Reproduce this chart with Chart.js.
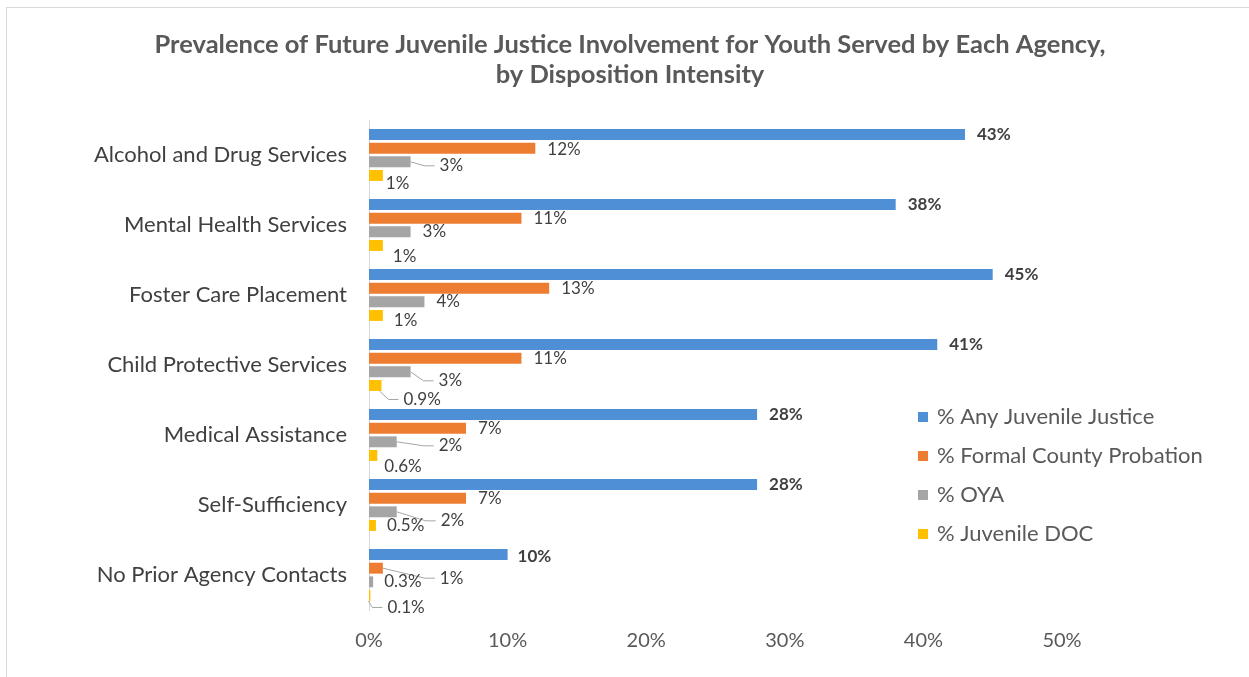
<!DOCTYPE html>
<html>
<head>
<meta charset="utf-8">
<script src="https://cdn.jsdelivr.net/npm/chart.js@4"></script>
<style>
  html, body { margin: 0; padding: 0; background: #fff; }
  #wrap { width: 1249px; height: 677px; }
</style>
</head>
<body>
<div id="wrap"><canvas id="myChart" width="1249" height="677"></canvas></div>
<script>
"use strict";

const categories = [
  "Alcohol and Drug Services",
  "Mental Health Services",
  "Foster Care Placement",
  "Child Protective Services",
  "Medical Assistance",
  "Self-Sufficiency",
  "No Prior Agency Contacts",
];
const seriesNames = [
  "% Any Juvenile Justice",
  "% Formal County Probation",
  "% OYA",
  "% Juvenile DOC",
];
const anyJuvenileJustice = [43, 38, 45, 41, 28, 28, 10];
const formalCountyProbation = [12, 11, 13, 11, 7, 7, 1];
const oya = [3, 3, 4, 3, 2, 2, 0.3];
const juvenileDoc = [1, 1, 1, 0.9, 0.6, 0.5, 0.1];
const xTickValues = [0, 10, 20, 30, 40, 50];
const titleLines = [
  "Prevalence of Future Juvenile Justice Involvement for Youth Served by Each Agency,",
  "by Disposition Intensity",
];

const seriesColors = ["#4f8fd6", "#ed7d31", "#a5a5a5", "#ffc000"];
const fontFamily = "Lato, 'Open Sans', sans-serif";

// where Excel pushed the data labels: [dx from bar end, dy from bar centre, leader]
// leader: 0 none, 1 from bar end, 2 from bar bottom
const labelNudge = [
  [[12, 0], [12, 0], [12, 0], [12, 0], [12, 0], [12, 0], [10, 2]],
  [[12, 1], [12, 0], [12, 0], [12, 0], [12, 0], [12, 0], [57, 10, 1]],
  [[29, 4, 1], [12, 0], [12, 0], [28, 9, 1], [42, 4, 1], [44, 9, 1], [11, 0]],
  [[3, 8], [10, 11], [11, 5], [22, 14, 2], [7, 11], [11, 0], [17, 12, 2]],
];

const fmt = (v) => (v < 1 ? v.toFixed(1) : v.toFixed(0)) + "%";

const frame = {
  id: "frame",
  beforeDraw: (chart) => {
    const ctx = chart.ctx;
    ctx.save();
    ctx.strokeStyle = "#d9d9d9";
    ctx.lineWidth = 1;
    ctx.strokeRect(6.5, 7.5, 1300, 700);
    // title, centred on the whole frame rather than the plot
    ctx.fillStyle = "#595959";
    ctx.font = "bold 25.5px " + fontFamily;
    ctx.textAlign = "center";
    ctx.textBaseline = "middle";
    titleLines.forEach((t, i) => ctx.fillText(t, 630, 45 + i * 30));
    ctx.restore();
  },
};

const barLabels = {
  id: "barLabels",
  afterDatasetsDraw: (chart) => {
    const ctx = chart.ctx;
    ctx.save();
    ctx.textBaseline = "middle";
    ctx.textAlign = "left";
    chart.data.datasets.forEach((ds, di) => {
      const meta = chart.getDatasetMeta(di);
      meta.data.forEach((bar, i) => {
        const [dx, dy, leader] = labelNudge[di][i];
        const left = bar.x + dx;
        const ly = bar.y + dy;
        if (leader) {
          const sx = leader === 2 ? bar.x - 2 : bar.x;
          const sy = leader === 2 ? bar.y + bar.height / 2 : bar.y;
          ctx.strokeStyle = "#a6a6a6";
          ctx.lineWidth = 1;
          ctx.beginPath();
          ctx.moveTo(sx, sy);
          ctx.lineTo(left - 15, ly);
          ctx.lineTo(left - 5, ly);
          ctx.stroke();
        }
        ctx.font = (di === 0 ? "bold " : "") + "17px " + fontFamily;
        ctx.fillStyle = "#404040";
        ctx.fillText(fmt(ds.data[i]), left, ly);
      });
    });
    ctx.restore();
  },
};

const sideLegend = {
  id: "sideLegend",
  afterDraw: (chart) => {
    const ctx = chart.ctx;
    ctx.save();
    ctx.font = "22px " + fontFamily;
    ctx.textBaseline = "middle";
    ctx.textAlign = "left";
    chart.data.datasets.forEach((ds, i) => {
      const y = 417 + i * 39;
      ctx.fillStyle = ds.backgroundColor;
      ctx.fillRect(918, y - 5, 10, 10);
      ctx.fillStyle = "#595959";
      ctx.fillText(ds.label, 937, y);
    });
    ctx.restore();
  },
};

const seriesData = [anyJuvenileJustice, formalCountyProbation, oya, juvenileDoc];

const config = {
  type: "bar",
  data: {
    labels: categories,
    datasets: seriesData.map((values, i) => ({
      label: seriesNames[i],
      data: values,
      backgroundColor: seriesColors[i],
      categoryPercentage: 0.78,
      barPercentage: 0.8,
    })),
  },
  options: {
    indexAxis: "y",
    responsive: false,
    animation: false,
    layout: {
      padding: { top: 120, right: 187, bottom: 5, left: 0 },
    },
    scales: {
      x: {
        min: 0,
        max: 50,
        afterBuildTicks: (scale) => {
          scale.ticks = xTickValues.map((v) => ({ value: v }));
        },
        grid: { display: false, drawTicks: false },
        border: { display: false },
        ticks: {
          padding: 19,
          color: "#595959",
          font: { size: 20, family: fontFamily },
          callback: (v) => v + "%",
        },
      },
      y: {
        afterFit: (scale) => {
          scale.width = 369;
        },
        grid: { display: false, drawTicks: false },
        border: { display: true, color: "#d9d9d9", width: 1 },
        ticks: {
          padding: 22,
          color: "#404040",
          font: { size: 22, family: fontFamily },
        },
      },
    },
    plugins: {
      legend: { display: false },
      tooltip: { enabled: false },
      title: { display: false },
    },
  },
  plugins: [frame, barLabels, sideLegend],
};

const myChart = new Chart(document.getElementById("myChart"), config);
</script>
</body>
</html>
